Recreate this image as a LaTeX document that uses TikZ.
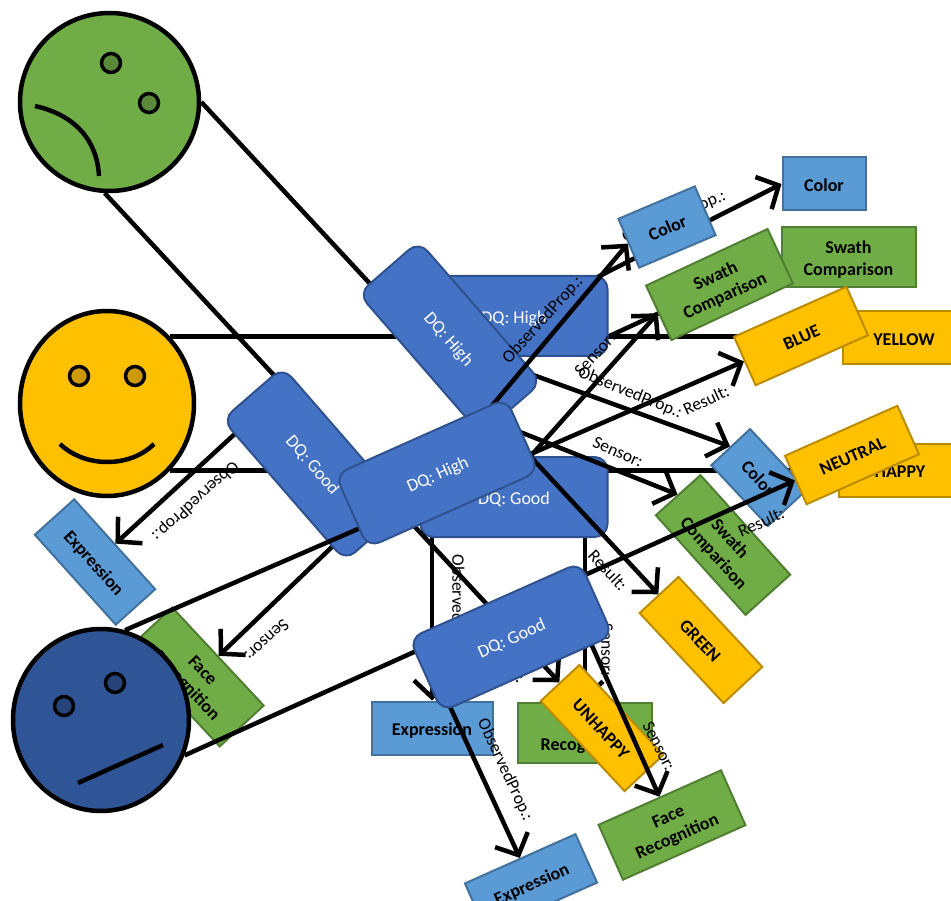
\documentclass[tikz,border=0pt]{standalone}
\usepackage{fontspec}
\setmainfont{Carlito}
\usetikzlibrary{arrows.meta,shapes.geometric}
\pgfdeclarelayer{la}\pgfdeclarelayer{lb}\pgfdeclarelayer{lc}\pgfdeclarelayer{ld}\pgfdeclarelayer{le}\pgfdeclarelayer{lf}\pgfdeclarelayer{lg}\pgfdeclarelayer{lh}\pgfdeclarelayer{li}
\pgfsetlayers{la,lb,lc,ld,le,lf,lg,lh,li,main}
\definecolor{cblue}{HTML}{5B9BD5}\definecolor{cblueD}{HTML}{41719C}
\definecolor{cgreen}{HTML}{70AD47}\definecolor{cgreenD}{HTML}{507E32}
\definecolor{cgold}{HTML}{FFC000}\definecolor{cgoldD}{HTML}{BC8C00}
\definecolor{cdq}{HTML}{4472C4}\definecolor{cdqD}{HTML}{2F528F}
\definecolor{cnavy}{HTML}{2F5597}
\newcommand{\bx}[1]{\raisebox{-2.8pt}[\height][\depth]{\begin{tabular}{@{}c@{}}#1\end{tabular}}}
\tikzset{
  box/.style={draw,line width=2pt,inner sep=0pt,align=center,font=\fontsize{18}{22}\selectfont\bfseries,text=black},
  obsbox/.style={box,fill=cblue,draw=cblueD,minimum width=83pt,minimum height=53pt},
  exprbox/.style={box,fill=cblue,draw=cblueD,minimum width=121pt,minimum height=53pt},
  sensbox/.style={box,fill=cgreen,draw=cgreenD,minimum width=134pt,minimum height=60pt},
  resbox/.style={box,fill=cgold,draw=cgoldD,minimum width=123pt,minimum height=53pt},
  dqbox/.style={draw=cdqD,fill=cdq,line width=2pt,rounded corners=13pt,minimum width=187pt,minimum height=80pt,inner sep=0pt,text=white,font=\fontsize{18}{22}\selectfont},
  face/.style={ellipse,draw=black,line width=4.5pt,inner sep=0pt},
  eye/.style={draw=black,line width=3.5pt},
  conn/.style={draw=black,line width=4.5pt},
  arr/.style={conn,-{Straight Barb[length=17pt,width=36pt,line width=4.5pt]}},
  lbl/.style={inner sep=0pt,text=black,font=\fontsize{17.5}{20}\selectfont},
}
\begin{document}
\begin{tikzpicture}[x=1pt,y=-1pt]
\useasboundingbox (0,0) rectangle (951,901);
% ---------- unrotated boxes
\begin{pgfonlayer}{lb}
\node[dqbox] (dqHigh) at (514,316) {\bx{DQ: High}};
\node[dqbox] (dqGood) at (514,497) {\bx{DQ: Good}};
\node[obsbox] (color1) at (824,184) {\bx{Color}};
\node[sensbox] (swath1) at (848.5,257) {\bx{Swath\\Comparison}};
\node[resbox] (yellowbox) at (904,338) {\bx{YELLOW}};
\node[resbox] (happy) at (900,470) {\bx{HAPPY}};
\node[exprbox] (expr1) at (432,728) {\bx{Expression}};
\node[sensbox] (face1) at (585,732.5) {\bx{Face\\Recognition}};
\node[exprbox,rotate=-48] (expr3) at (95,562) {\bx{Expression}};
\node[sensbox,rotate=-47] (face3) at (196,677) {\bx{Face\\Recognition}};
\end{pgfonlayer}
% ---------- third copy
\begin{pgfonlayer}{ld}
\node[dqbox,rotate=-49] (dqHigh3) at (450,338) {\bx{DQ: High}};
\node[dqbox,rotate=-49] (dqGood3) at (314,464) {\bx{DQ: Good}};
\node[obsbox,rotate=-47] (color3) at (759,477.5) {\bx{Color}};
\node[sensbox,rotate=-48] (swath3) at (723,545) {\bx{Swath\\Comparison}};
\node[resbox,rotate=-47] (green) at (701,640) {\bx{GREEN}};
\node[face,fill=cgreen,minimum width=179pt,minimum height=178pt] (sad) at (109.5,102) {};
\node[face,fill=cgold,minimum width=174pt,minimum height=185pt] (smile) at (107,403.5) {};
\end{pgfonlayer}
% ---------- second copy
\begin{pgfonlayer}{lg}
\node[dqbox,rotate=24] (dqHigh2) at (437,473) {\bx{DQ: High}};
\node[obsbox,rotate=23] (color2) at (667,227) {\bx{Color}};
\node[sensbox,rotate=25] (swath2) at (719.5,284.5) {\bx{Swath\\Comparison}};
\node[resbox,rotate=24] (bluebox) at (801,336) {\bx{BLUE}};
\node[resbox,rotate=24] (neutral) at (852,455) {\bx{NEUTRAL}};
\node[resbox,rotate=-47] (unhappy) at (602,728) {\bx{UNHAPPY}};
\node[face,fill=cnavy,minimum width=176pt,minimum height=182pt] (neutralface) at (101,720) {};
\end{pgfonlayer}
\begin{pgfonlayer}{li}
\node[dqbox,rotate=24] (dqGood2) at (511,637) {\bx{DQ: Good}};
\node[exprbox,rotate=24] (expr2) at (531,883) {\bx{Expression}};
\node[sensbox,rotate=24] (face2) at (672,825) {\bx{Face\\Recognition}};
\end{pgfonlayer}
% ---------- free ends of connectors, under the boxes they leave
\coordinate (g1a) at (560,296);
\coordinate (g1b) at (590,345);
\coordinate (g2a) at (480,420);
\coordinate (g2b) at (520,468);
\coordinate (g3a) at (525,372);
\coordinate (g3b) at (510,428);
\coordinate (g4a) at (432,520);
\coordinate (g4b) at (585,520);
\coordinate (g5a) at (440,685);
\coordinate (g5b) at (585,630);
\coordinate (g6a) at (250,420);
\coordinate (g6b) at (360,520);
% ---------- connectors, bottom layer
\begin{pgfonlayer}{la}
\draw[arr] (smile.north east) -- (smile.north east -| yellowbox.west);
\draw[arr] (smile.south east) -- (smile.south east -| happy.west);
\draw[arr] (g1a) -- (color1.west);
\draw[arr] (g1b) -- (swath1.west);
\draw[arr] (g4a) -- (expr1.north);
\draw[arr] (g4b) -- (face1.north);
\node[lbl,rotate=23] (l1) at (674,217) {ObservedProp.:};
\node[lbl,rotate=-90] (l2) at (457,610) {ObservedProp.:};
\node[lbl,rotate=-90] (l3) at (607,650) {Sensor:};
\node[lbl] (l4) at (792,354) {Result:};
\end{pgfonlayer}
\begin{pgfonlayer}{lc}
\draw[arr] (sad.east) -- (green.west);
\draw[arr] (sad.-93) -- (unhappy.west);
\draw[arr] (g3a) -- (color3.west);
\draw[arr] (g3b) -- (swath3.west);
\draw[arr] (g6a) -- (expr3.north);
\draw[arr] (g6b) -- (face3.north);
\node[lbl,rotate=-47] (l5) at (608,570) {Result:};
\node[lbl,rotate=-47] (l6) at (506,662) {Result:};
\node[lbl,rotate=-22] (l7) at (630,393) {ObservedProp.:};
\node[lbl,rotate=-24] (l8) at (618,452) {Sensor:};
\node[lbl,rotate=222] (l9) at (195,501) {ObservedProp.:};
\node[lbl,rotate=222] (l10) at (267,640) {Sensor:};
\end{pgfonlayer}
\begin{pgfonlayer}{le}
\draw[arr] (neutralface.75) -- (bluebox.west);
\draw[arr] (neutralface.-23) -- (neutral.west);
\node[lbl,rotate=25] (l11) at (706,400) {Result:};
\node[lbl,rotate=24] (l12) at (761,522) {Result:};
\end{pgfonlayer}
\begin{pgfonlayer}{lf}
\draw[arr] (g2a) -- (color2.west);
\draw[arr] (g2b) -- (swath2.west);
\node[lbl,rotate=48] (l13) at (543,320) {ObservedProp.:};
\node[lbl,rotate=48] (l14) at (595,354) {Sensor:};
\end{pgfonlayer}
\begin{pgfonlayer}{lh}
\draw[arr] (g5a) -- (expr2.north);
\draw[arr] (g5b) -- (face2.north);
\node[lbl,rotate=-65] (l15) at (505,770) {ObservedProp.:};
\node[lbl,rotate=-63] (l16) at (659,746) {Sensor:};
\end{pgfonlayer}
% ---------- faces
\draw[eye,fill=cgreen!80!black] (111,63) circle (9.5);
\draw[eye,fill=cgreen!80!black] (149,103) circle (9.5);
\draw[conn] (35,106) .. controls (75,115) and (97,140) .. (99,176);
\draw[eye,fill=cgold!80!black] (79,376) circle (9.5);
\draw[eye,fill=cgold!80!black] (135,376) circle (9.5);
\draw[conn] (60,444) .. controls (85,468) and (130,468) .. (154,444);
\draw[eye,fill=cnavy!80!black] (64,706) circle (9.5);
\draw[eye,fill=cnavy!80!black] (115,683) circle (9.5);
\draw[conn] (78,783) -- (163,745);
\end{tikzpicture}
\end{document}
